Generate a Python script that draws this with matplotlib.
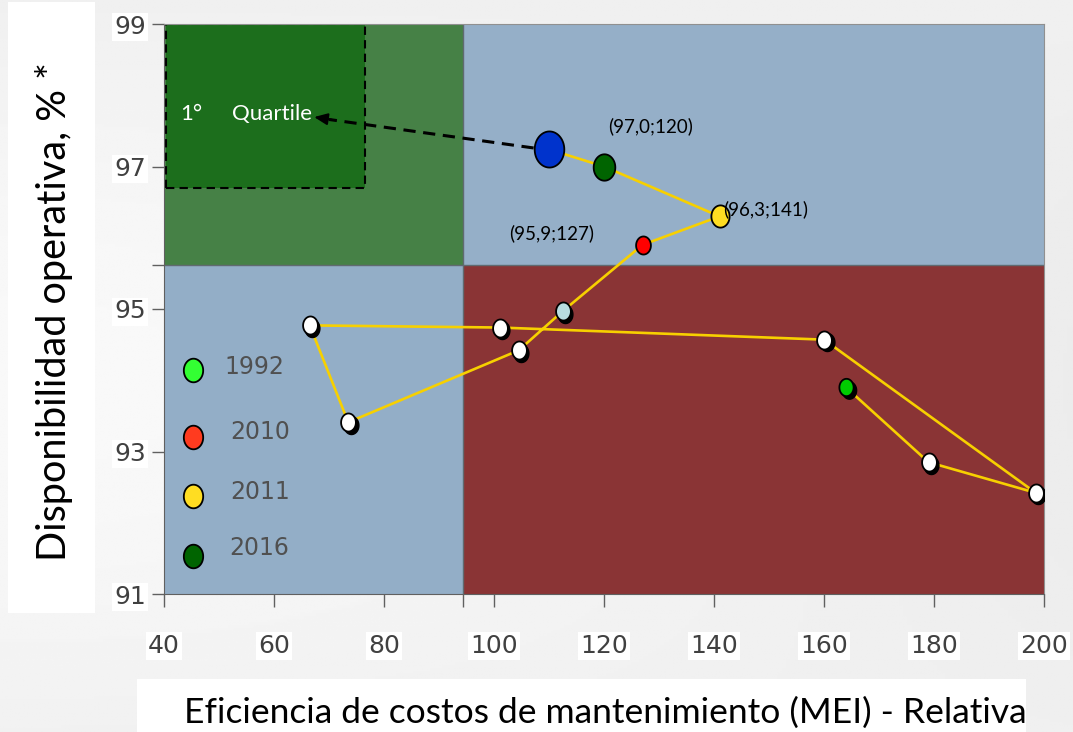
import numpy as np
import matplotlib.pyplot as plt
from matplotlib.path import Path
from matplotlib.patches import Rectangle
from matplotlib.transforms import offset_copy

# Trayectoria MEI vs disponibilidad (orden cronologico)
mei = [164, 179, 198.5, 160, 101, 66.5, 73.5, 104.5, 112.5, 127, 141, 120, 110]
disp = [93.9, 92.85, 92.42, 94.57, 94.74, 94.77, 93.41, 94.42, 94.97, 95.9, 96.3, 97.0, 97.24]
colores = ['#00cc00', 'white', 'white', 'white', 'white', 'white', 'white',
           'white', '#b8dde0', '#ff0000', '#ffdd22', '#006400', '#0033cc']
tamanos = [12.5, 13, 13, 13, 13, 13, 13, 13, 13, 13, 16, 19, 26]
con_sombra = [True] * 9 + [False] * 4

etiquetas = ['(97,0;120)', '(96,3;141)', '(95,9;127)']

anios = ['1992', '2010', '2011', '2016']
colores_anios = ['#33ff33', '#ff3b1f', '#ffdd22', '#006400']

x_ticks = [40, 60, 80, 100, 120, 140, 160, 180, 200]
y_ticks = [91, 93, 95, 97, 99]

x_corte = 94.4
y_corte = 95.62

# marcador eliptico (un poco mas alto que ancho)
t = np.linspace(0, 2 * np.pi, 60)
elipse = Path(np.column_stack([0.82 * np.cos(t), np.sin(t)]), closed=True)

fig = plt.figure(figsize=(10.73, 7.32), dpi=100)

# fondo claro
bg = fig.add_axes([0, 0, 1, 1], zorder=-10)
grad = np.linspace(0, 1, 256)
img = 0.94 + 0.035 * np.outer(np.sin(grad * 3.0), np.cos(grad * 2.0))
bg.imshow(img, cmap='gray', vmin=0, vmax=1, aspect='auto', extent=[0, 1, 0, 1])
bg.add_patch(Rectangle((8 / 1073, 1 - 613 / 732), 87 / 1073, 611 / 732,
                       facecolor='white', edgecolor='none'))
bg.add_patch(Rectangle((137 / 1073, 0), 889 / 1073, 53 / 732,
                       facecolor='white', edgecolor='none'))
bg.set_xlim(0, 1)
bg.set_ylim(0, 1)
bg.axis('off')

fig.text(54 / 1073, 1 - 312 / 732, 'Disponibilidad operativa, % *', rotation=90,
         ha='center', va='center', fontsize=28.5, family='Lato', color='black')
fig.text(605 / 1073, 1 - 713 / 732,
         'Eficiencia de costos de mantenimiento (MEI) - Relativa',
         ha='center', va='center', fontsize=25.5, family='Lato', color='black')

ax = fig.add_axes([164 / 1073, 1 - 594 / 732, 880 / 1073, 570 / 732])
ax.set_xlim(40, 200)
ax.set_ylim(91, 99)
ax.patch.set_alpha(0)

# cuadrantes
ax.add_patch(Rectangle((40, y_corte), x_corte - 40, 99 - y_corte, facecolor='#468146', edgecolor='none'))
ax.add_patch(Rectangle((x_corte, y_corte), 200 - x_corte, 99 - y_corte, facecolor='#95afc8', edgecolor='none'))
ax.add_patch(Rectangle((40, 91), x_corte - 40, y_corte - 91, facecolor='#93aec7', edgecolor='none'))
ax.add_patch(Rectangle((x_corte, 91), 200 - x_corte, y_corte - 91, facecolor='#8a3435', edgecolor='none'))
ax.axvline(x_corte, color='#606a70', lw=1)
ax.axhline(y_corte, color='#606a70', lw=1)

# primer cuartil
ax.add_patch(Rectangle((40.3, 96.7), 76.5 - 40.3, 99 - 96.7, facecolor='#1c6e1c',
                       edgecolor='black', linestyle=(0, (4, 2.5)), lw=1.5, zorder=2))
ax.text(43.0, 97.74, '1°', color='white', fontsize=16, family='Lato',
        va='center', ha='left', zorder=3)
ax.text(52.4, 97.74, 'Quartile', color='white', fontsize=16, family='Lato',
        va='center', ha='left', zorder=3)

# trayectoria
ax.plot(mei, disp, color='#f7d000', lw=1.9, zorder=4)

sombra = offset_copy(ax.transData, fig=fig, x=2.5, y=-2.5, units='dots')
for x, y, c, s, sh in zip(mei, disp, colores, tamanos, con_sombra):
    if sh:
        ax.plot(x, y, marker=elipse, ms=s, color='black', mec='black',
                transform=sombra, zorder=5)
    ax.plot(x, y, marker=elipse, ms=s, mfc=c, mec='black', mew=1.3, zorder=6)

# flecha hacia el primer cuartil
ax.plot([107.2, 70], [97.26, 97.66], color='black', lw=2.2, ls=(0, (4, 2.5)), zorder=7)
ax.annotate('', xy=(66.8, 97.70), xytext=(71, 97.65),
            arrowprops=dict(arrowstyle='-|>,head_length=0.8,head_width=0.35',
                            color='black', lw=1.5), zorder=7)

ax.text(128.5, 97.57, etiquetas[0], fontsize=13.5, family='Lato', ha='center', va='center', zorder=8)
ax.text(141.6, 96.4, etiquetas[1], fontsize=13.5, family='Lato', ha='left', va='center', zorder=8)
ax.text(110.5, 96.07, etiquetas[2], fontsize=13.5, family='Lato', ha='center', va='center', zorder=8)

# leyenda manual
ley_y = [94.14, 93.2, 92.37, 91.53]
txt_y = [94.18, 93.27, 92.43, 91.65]
txt_x = [51.0, 52.0, 52.0, 51.8]
for a, c, yy, tx, ty in zip(anios, colores_anios, ley_y, txt_x, txt_y):
    ax.plot(45.2, yy, marker=elipse, ms=17, mfc=c, mec='black', mew=1.3, zorder=6)
    ax.text(tx, ty, a, fontsize=17, color='#505050', ha='left', va='center', zorder=6)

# ejes
for lado in ['left', 'bottom']:
    ax.spines[lado].set_color('#606060')
for lado in ['top', 'right']:
    ax.spines[lado].set_color('#909090')
ax.set_xticks(x_ticks + [x_corte])
ax.set_xticklabels([str(v) for v in x_ticks] + [''])
ax.set_yticks(y_ticks + [y_corte])
ax.set_yticklabels([str(v) for v in y_ticks] + [''])
ax.tick_params(axis='both', colors='#606060', length=9, width=1,
               labelcolor='#404040', labelsize=18)
ax.tick_params(axis='x', pad=20)
ax.tick_params(axis='y', pad=4)
for lbl in ax.get_xticklabels() + ax.get_yticklabels():
    lbl.set_bbox(dict(facecolor='white', edgecolor='none', pad=1.5))

fig.savefig('out.png', dpi=100)
